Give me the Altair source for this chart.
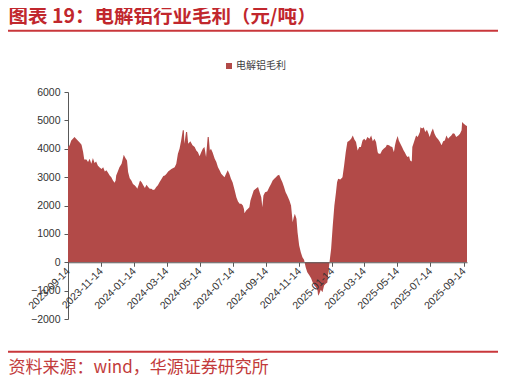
import altair as alt
import pandas as pd

# ---------------- data ----------------
start_date = "2023-09-14"
day_offsets = [
    0, 3, 6, 12, 15, 22, 25, 28, 30, 34, 37, 40, 43, 46, 49, 52, 55, 58, 62, 65,
    68, 71, 74, 77, 80, 83, 86, 88, 89, 92, 95, 99, 102, 103, 106, 109, 111, 114, 117, 120,
    123, 126, 128, 131, 133, 136, 139, 142, 145, 148, 151, 154, 157, 160, 163, 166, 169, 173, 176, 179,
    182, 185, 188, 191,
    197, 200, 203, 206, 209, 212, 214, 215, 218, 220, 222, 226, 230, 234, 237, 240, 243, 246, 249, 252,
    255, 258, 260, 262, 264, 267, 271, 274, 277, 280, 283, 286, 289, 292, 295, 298, 301, 304, 308, 311,
    314, 317, 320, 323, 325, 326, 329, 332, 335, 337, 340, 343, 348, 351, 354, 357, 359, 361, 364, 368,
    372, 375, 378, 381, 384, 387, 390, 393, 396, 399, 402, 405, 409, 412, 415, 417, 419, 422, 424, 427,
    430, 433, 436, 439, 442, 446, 449, 452, 455, 458, 461, 462, 464, 467, 470, 473, 476, 479, 481, 483,
    486, 489, 492, 495, 497, 499, 503, 507, 510, 513, 516, 520, 523, 526, 529, 532, 535, 538, 541, 544,
    547, 550, 553, 557, 560, 563, 566, 569, 572,
    574, 577, 580, 583, 587, 589, 593, 596, 599, 602, 604, 606, 609, 611, 614, 617, 620, 622, 625, 627,
    630, 632, 635, 636, 638, 641, 643, 646, 650, 651, 654, 657, 660, 663, 666, 668, 671, 674, 677, 680,
    684, 687, 690, 693, 696, 699, 702, 705, 708, 711, 714, 717, 721, 724, 727, 728, 731, 735, 737,
]
margin_values = [
    4060, 4120, 4290, 4410, 4350, 4210, 4140, 3880, 3620, 3620, 3530, 3650, 3470, 3670, 3500, 3550, 3410, 3350, 3290, 3350,
    3200, 3240, 3150, 3060, 3000, 2880, 2800, 2880, 3060, 3200, 3350, 3470, 3710, 3790, 3670, 3590, 3180, 2960, 2880, 2760,
    2710, 2650, 2590, 2760, 2880, 2820, 2710, 2620, 2730, 2650, 2590, 2590, 2550, 2560, 2650, 2710, 2820, 2940, 3040, 3060,
    3120, 3200, 3240, 3290,
    3350, 3470, 3820, 4000, 4290, 4650, 4650, 4180, 4590, 4590, 4180, 4260, 4120, 4060, 3940, 3880, 3740, 3880, 4000, 4060,
    3710, 4410, 4410, 3940, 4000, 3880, 3650, 3530, 3350, 3240, 3120, 3060, 3000, 3120, 3240, 3120, 2940, 2820, 2530, 2290,
    2140, 2060, 2060, 2000, 1880, 1730, 1820, 1880, 1940, 2180, 2350, 2530, 2610, 2650, 2470, 2290, 1940, 2350, 2470, 2490,
    2650, 2760, 2880, 2940, 3000, 3060, 3080, 2940, 2820, 2650, 2470, 2350, 2180, 2000, 1410, 1590, 1710, 1530, 1060, 590,
    350, 180, 90, -180, -350, -470, -560, -710, -820, -880, -1000, -1180, -1120, -970, -1060, -820, -760, -710, -350, 0,
    470, 1290, 2000, 2470, 2820, 2940, 2920, 3000, 3410, 3880, 4240, 4290, 4350, 4470, 4330, 4240, 3940, 4060, 4060, 4290,
    4350, 4290, 4410, 4350, 4470, 4260, 4350, 4240, 3880,
    3820, 3820, 3940, 4000, 4060, 4140, 4120, 4080, 4060, 3880, 4120, 4290, 4450, 4290, 4180, 4060, 3940, 3880, 3760, 3710,
    3740, 3590, 3550, 4060, 4180, 4350, 4470, 4410, 4590, 4760, 4710, 4760, 4590, 4670, 4530, 4410, 4590, 4710, 4530, 4410,
    4330, 4240, 4120, 4260, 4290, 4470, 4350, 4410, 4470, 4550, 4530, 4410, 4470, 4530, 4650, 4940, 4880, 4820, 4800,
]
series_name = "电解铝毛利"
title_text = "图表 19：电解铝行业毛利（元/吨）"
source_text = "资料来源：wind，华源证券研究所"
x_tick_dates = [
    "2023-09-14", "2023-11-14", "2024-01-14", "2024-03-14", "2024-05-14", "2024-07-14",
    "2024-09-14", "2024-11-14", "2025-01-14", "2025-03-14", "2025-05-14", "2025-07-14", "2025-09-14",
]
x_domain = ["2023-09-14", "2025-09-20"]
y_ticks = [-2000, -1000, 0, 1000, 2000, 3000, 4000, 5000, 6000]
y_domain = [-2000, 6000]

# ---------------- styling ----------------
AREA_COLOR = "#B24A48"
TITLE_COLOR = "#C1272D"
LINE_COLOR = "#C9373B"
SOURCE_COLOR = "#C23B3B"
W, H = 399, 227


def to_dt(s):
    y, m, d = (int(p) for p in s.split("-"))
    return alt.DateTime(year=y, month=m, date=d)


df = pd.DataFrame({
    "date": pd.Timestamp(start_date) + pd.to_timedelta(day_offsets, unit="D"),
    "value": margin_values,
    "series": series_name,
})

zero_offset = -H * (0 - y_domain[0]) / (y_domain[1] - y_domain[0])

area = alt.Chart(df).mark_area(interpolate="linear").encode(
    x=alt.X(
        "date:T",
        scale=alt.Scale(domain=[to_dt(d) for d in x_domain]),
        axis=alt.Axis(
            values=[to_dt(d) for d in x_tick_dates],
            format="%Y-%m-%d",
            labelAngle=-45,
            labelAlign="right",
            labelBaseline="middle",
            labelOverlap=False,
            offset=zero_offset,
            zindex=1,
            grid=False,
            title=None,
            tickSize=4,
            labelPadding=3,
            labelFont="Liberation Sans",
            labelFontSize=10.5,
            labelColor="#333333",
            domainColor="#595959",
            tickColor="#595959",
        ),
    ),
    y=alt.Y(
        "value:Q",
        scale=alt.Scale(domain=y_domain, nice=False, zero=False),
        axis=alt.Axis(
            values=y_ticks,
            format="d",
            grid=False,
            title=None,
            tickSize=4,
            labelPadding=4,
            labelFont="Liberation Sans",
            labelFontSize=10.5,
            labelColor="#333333",
            domainColor="#595959",
            tickColor="#595959",
        ),
    ),
    color=alt.Color(
        "series:N",
        scale=alt.Scale(domain=[series_name], range=[AREA_COLOR]),
        legend=alt.Legend(
            title=None,
            orient="none",
            legendX=156,
            legendY=-31,
            symbolType="square",
            symbolSize=36,
            symbolStrokeWidth=0,
            labelOffset=2,
            labelFont="Noto Sans CJK SC",
            labelFontSize=10,
            labelColor="#404040",
            padding=0,
        ),
    ),
)

title = alt.Chart(pd.DataFrame({"label": [title_text]})).mark_text(
    align="left", baseline="middle", font="Noto Sans CJK SC", fontWeight="bold",
    fontSize=19.5, color=TITLE_COLOR,
).encode(x=alt.value(-59.5), y=alt.value(-74.8), text="label:N")

top_line = alt.Chart(pd.DataFrame({"k": [0]})).mark_rule(
    color=LINE_COLOR, strokeWidth=2
).encode(x=alt.value(-60), x2=alt.value(432.5), y=alt.value(-61.3))

bottom_line = alt.Chart(pd.DataFrame({"k": [0]})).mark_rule(
    color=LINE_COLOR, strokeWidth=2
).encode(x=alt.value(-60), x2=alt.value(432.5), y=alt.value(259.7))

source = alt.Chart(pd.DataFrame({"label": [source_text]})).mark_text(
    align="left", baseline="middle", font="Noto Sans CJK SC",
    fontSize=17, color=SOURCE_COLOR,
).encode(x=alt.value(-59.5), y=alt.value(276.0), text="label:N")

chart = alt.layer(area, title, top_line, bottom_line, source).properties(
    width=W,
    height=H,
    autosize=alt.AutoSizeParams(type="none"),
    padding={"left": 60, "top": 84, "right": 31, "bottom": 66},
).configure_view(stroke=None)

chart.save("out.html", embed_options={"renderer": "svg", "actions": False})
